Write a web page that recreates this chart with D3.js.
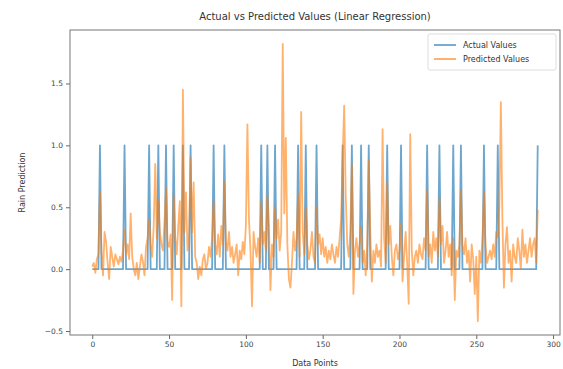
<!DOCTYPE html>
<html>
<head>
<meta charset="utf-8">
<script src="https://cdn.jsdelivr.net/npm/d3@7"></script>
<style>
  body { margin: 0; background: #fff; }
  text { font-family: "DejaVu Sans", sans-serif; fill: #333; }
</style>
</head>
<body>
<div id="chart"></div>
<script>
// actual class (0 = no rain, 1 = rain) per test row
var actualValues = [
  0,0,0,0,0,1,0,0,0,0, 0,0,0,0,0,0,0,0,0,0, 0,1,0,0,0,0,0,0,0,0,
  0,0,0,0,0,0,0,1,0,0, 0,0,0,1,0,0,0,0,1,0, 0,0,0,1,0,0,0,0,0,1,
  0,0,0,0,1,0,0,0,0,0, 0,0,0,0,0,0,0,0,0,1, 0,0,0,0,0,0,1,0,0,0,
  0,0,0,0,0,0,0,0,0,0, 0,0,0,0,0,0,0,0,0,0, 1,0,0,0,1,0,0,0,0,1,
  0,0,0,0,0,0,0,0,0,0, 0,0,0,0,1,0,0,0,0,1, 0,0,0,0,0,0,1,0,0,0,
  0,0,0,0,0,0,0,0,0,0, 0,0,0,1,0,0,0,0,0,1, 0,0,0,0,0,1,0,0,0,0,
  1,0,0,0,0,0,0,0,0,0, 0,0,1,0,0,0,0,0,0,0, 0,1,0,0,0,0,0,0,0,0,
  0,0,0,0,0,0,0,0,1,0, 0,0,0,0,0,0,1,0,0,0, 0,0,0,0,0,1,0,0,0,0,
  1,0,0,0,0,0,0,0,0,0, 0,0,0,0,0,1,0,0,0,0, 0,0,0,0,1,0,0,0,0,0,
  0,0,0,0,0,0,0,0,0,0, 0,0,0,0,0,0,0,0,0,0, 1
];
// linear regression output for the same rows
var predictedValues = [
  0.02, 0.05, -0.03, 0.08, 0.12, 0.62, 0.15, -0.05, 0.30, 0.22,
  0.05, -0.08, 0.18, 0.10, 0.02, 0.12, 0.08, 0.04, 0.10, 0.06,
  0.15, 0.32, 0.12, 0.20, 0.08, 0.45, 0.10, 0.00, -0.05, 0.05,
  -0.08, 0.02, 0.12, 0.06, -0.05, 0.18, 0.25, 0.40, 0.20, 0.10,
  0.35, 0.85, 0.25, 0.55, 0.30, 0.20, 0.15, 0.38, 0.65, 0.22,
  0.18, 0.28, -0.25, 0.60, 0.25, 0.12, 0.35, 0.55, -0.30, 1.45,
  0.30, 0.62, 0.15, 0.25, 0.90, 0.30, 0.70, 0.10, 0.05, -0.08,
  0.02, -0.05, 0.08, 0.12, 0.00, 0.05, 0.18, 0.10, 0.25, 0.55,
  0.20, 0.12, 0.28, 0.10, 0.35, 0.20, 0.70, 0.22, 0.15, 0.30,
  0.10, 0.18, 0.05, 0.12, 0.20, -0.05, 0.15, 0.08, 0.22, 0.12,
  0.35, 1.17, 0.40, 0.15, -0.30, 0.30, 0.18, 0.10, 0.25, 0.05,
  0.55, 0.20, 0.30, 0.15, 0.60, 0.35, -0.17, 0.20, 0.10, 0.50,
  0.25, 0.40, 0.15, 0.30, 1.82, 0.45, 1.06, 0.20, -0.08, -0.15,
  0.05, 0.30, 0.15, 0.25, 0.60, 0.10, 1.27, 0.30, 0.12, 0.50,
  0.20, 0.08, 0.15, 0.30, 0.10, 0.05, 0.50, 0.20, 0.28, 0.12,
  0.25, 0.10, 0.18, 0.05, 0.15, 0.08, 0.20, 0.12, 0.05, 0.18,
  0.10, 0.25, 0.40, 0.90, 1.32, 0.60, 0.20, 0.10, 0.30, 0.85,
  -0.20, 0.15, 0.25, 0.10, 0.20, 0.35, 0.05, 0.15, -0.05, 0.20,
  0.88, 0.30, -0.10, 0.15, 0.05, 0.20, 0.10, 0.15, 0.02, 1.13,
  0.25, 0.05, 0.70, 0.20, 0.35, 0.10, -0.05, 0.15, 0.20, 0.08,
  0.15, 0.37, -0.10, 0.10, 0.30, 0.05, -0.28, 1.09, 0.15, -0.05,
  0.10, 0.15, 0.05, 0.20, 0.12, 0.08, 0.25, 0.15, 0.64, 0.10,
  0.20, 0.05, 0.30, 0.15, 0.25, 0.10, 0.58, 0.20, 0.35, 0.05,
  0.15, 0.30, 0.10, 0.20, -0.05, 0.25, -0.25, 0.15, 0.10, 0.20,
  0.64, 0.20, 0.12, 0.25, 0.05, 0.15, -0.10, 0.20, 0.08, -0.20,
  0.10, -0.42, 0.15, 0.05, 0.25, 0.62, 0.20, 0.05, 0.10, 0.15,
  0.08, 0.20, 0.10, 0.30, 0.26, 0.50, 1.35, 0.40, -0.15, 0.20,
  0.34, 0.05, 0.15, -0.10, 0.20, 0.10, 0.05, 0.25, 0.15, 0.00,
  0.32, 0.10, 0.20, 0.05, 0.15, 0.25, 0.10, 0.20, 0.25, 0.05,
  0.48
];
var xTicks = [0, 50, 100, 150, 200, 250, 300];
var yTicks = [-0.5, 0.0, 0.5, 1.0, 1.5];
var seriesNames = ["Actual Values", "Predicted Values"];
var seriesColors = ["#1f77b4", "#ff7f0e"];

var width = 563, height = 369;
var margin = { top: 30, right: 3, bottom: 34, left: 70 };
var innerW = width - margin.left - margin.right;
var innerH = height - margin.top - margin.bottom;

var n = actualValues.length;
var padX = (n - 1) * 0.05;
var x = d3.scaleLinear().domain([-padX, n - 1 + padX]).range([0, innerW]);

var allVals = actualValues.concat(predictedValues);
var yMin = d3.min(allVals), yMax = d3.max(allVals);
var padY = (yMax - yMin) * 0.05;
var y = d3.scaleLinear().domain([yMin - padY, yMax + padY]).range([innerH, 0]);

var svg = d3.select('#chart')
  .append('svg')
  .attr('width', width)
  .attr('height', height);

var g = svg.append('g')
  .attr('transform', 'translate(' + margin.left + ',' + margin.top + ')');

var line = d3.line()
  .x(function (d, i) { return x(i); })
  .y(function (d) { return y(d); });

//actual first, predicted drawn on top
[actualValues, predictedValues].forEach(function (vals, k) {
  g.append('path')
    .datum(vals)
    .attr('fill', 'none')
    .attr('stroke', seriesColors[k])
    .attr('stroke-width', 1.8)
    .attr('stroke-opacity', k === 0 ? 0.65 : 0.6)
    .attr('stroke-linejoin', 'round')
    .attr('d', line);
});

//axes
var xAxis = g.append('g')
  .attr('transform', 'translate(0,' + innerH + ')')
  .call(d3.axisBottom(x).tickValues(xTicks).tickFormat(d3.format('d')).tickSize(4).tickPadding(3));
var yAxis = g.append('g')
  .call(d3.axisLeft(y).tickValues(yTicks).tickFormat(d3.format('.1f')).tickSize(4).tickPadding(3));
[xAxis, yAxis].forEach(function (a) {
  a.select('.domain').remove();
  a.selectAll('line').attr('stroke', '#666');
  a.selectAll('text').style('font-size', '7.5px').style('fill', '#444')
    .style('font-family', '"DejaVu Sans", sans-serif');
});

//frame
g.append('rect')
  .attr('width', innerW)
  .attr('height', innerH)
  .attr('fill', 'none')
  .attr('stroke', '#777')
  .attr('stroke-width', 1);

//title and labels
svg.append('text')
  .attr('x', margin.left + innerW / 2)
  .attr('y', 20)
  .attr('text-anchor', 'middle')
  .style('font-size', '10px')
  .text('Actual vs Predicted Values (Linear Regression)');
svg.append('text')
  .attr('x', margin.left + innerW / 2)
  .attr('y', 366)
  .attr('text-anchor', 'middle')
  .style('font-size', '8px')
  .text('Data Points');
svg.append('text')
  .attr('transform', 'translate(25,' + (margin.top + innerH / 2) + ') rotate(-90)')
  .attr('text-anchor', 'middle')
  .style('font-size', '8px')
  .text('Rain Prediction');

//legend
var leg = g.append('g').attr('transform', 'translate(' + (innerW - 132) + ',4)');
leg.append('rect')
  .attr('width', 128)
  .attr('height', 36)
  .attr('rx', 2)
  .attr('fill', '#fff')
  .attr('fill-opacity', 0.8)
  .attr('stroke', '#ddd');
seriesNames.forEach(function (name, i) {
  var row = leg.append('g').attr('transform', 'translate(6,' + (11 + i * 14) + ')');
  row.append('line')
    .attr('x1', 0).attr('x2', 22)
    .attr('stroke', seriesColors[i])
    .attr('stroke-width', 2)
    .attr('stroke-opacity', 0.6);
  row.append('text')
    .attr('x', 29)
    .attr('dy', '0.35em')
    .style('font-size', '8px')
    .text(name);
});
</script>
</body>
</html>
